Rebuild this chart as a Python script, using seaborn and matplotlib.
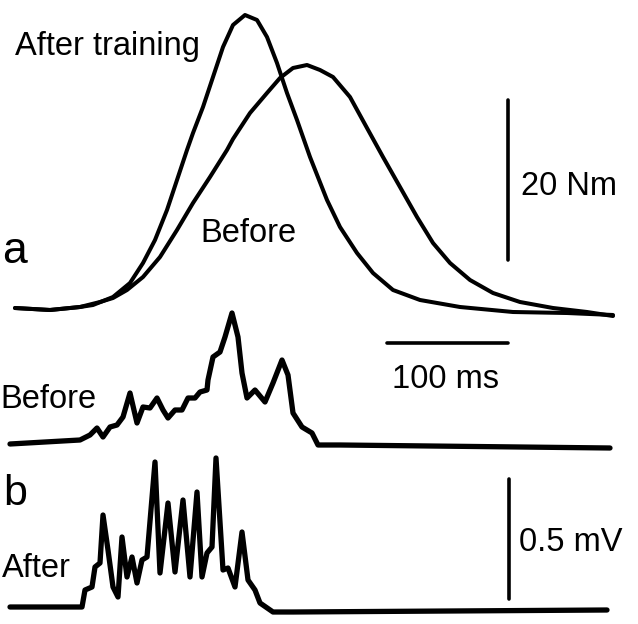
import matplotlib
matplotlib.use("Agg")
import matplotlib.pyplot as plt
import seaborn as sns

# ---- data (pixel units, y grows downwards) ----

# torque, after training
after_x = [15, 50, 80, 93, 113, 130, 143, 155, 167, 177, 187, 193, 203, 213, 223, 233,
           245, 257, 267, 277, 287, 297, 310, 327, 340, 357, 373, 393, 420, 460, 513,
           567, 613]
after_y = [308, 310, 307, 305, 297, 283, 263, 240, 210, 180, 150, 133, 107, 77, 47, 25,
           15, 20, 37, 63, 93, 120, 157, 200, 227, 253, 273, 290, 300, 307, 312,
           313, 315]

# torque, before training
before_x = [15, 50, 80, 100, 113, 127, 143, 160, 177, 193, 210, 227, 233, 250, 267, 280,
            293, 307, 320, 333, 350, 367, 383, 400, 417, 433, 450, 470, 493, 520, 553,
            587, 613]
before_y = [308, 310, 307, 302, 298, 290, 277, 257, 230, 203, 177, 150, 139, 113, 93, 78,
            68, 65, 70, 77, 97, 128, 157, 187, 217, 243, 263, 280, 293, 302, 308,
            312, 316]

# EMG before
emg_b_x = [10, 80, 90, 97, 103, 110, 117, 123, 130, 137, 143, 150, 157, 163, 168, 175,
           182, 188, 195, 200, 207, 208, 213, 220, 225, 232, 238, 242, 247, 255, 265,
           273, 282, 288, 293, 302, 312, 318, 340, 610]
emg_b_y = [444, 440, 435, 428, 437, 427, 425, 417, 393, 423, 407, 408, 398, 410, 418, 410,
           410, 398, 398, 392, 390, 380, 357, 352, 337, 313, 337, 373, 398, 390, 402,
           383, 360, 375, 413, 427, 433, 445, 445, 448]

# EMG after
emg_a_x = [10, 60, 82, 85, 92, 95, 100, 103, 108, 113, 118, 122, 127, 132, 137, 142, 147,
           155, 160, 168, 175, 183, 190, 197, 202, 207, 212, 216, 223, 228, 235, 242,
           248, 255, 260, 273, 293, 607]
emg_a_y = [607, 607, 607, 590, 587, 567, 563, 515, 550, 587, 597, 537, 577, 557, 583, 560, 557,
           462, 573, 503, 572, 500, 577, 492, 577, 553, 547, 458, 570, 568, 587, 532,
           580, 590, 603, 612, 612, 610]

# scale bars
nm_bar_x, nm_bar_y = [508, 508], [100, 260]
ms_bar_x, ms_bar_y = [387, 508], [343, 343]
mv_bar_x, mv_bar_y = [509, 509], [479, 599]

# labels: (text, x, baseline y, size)
labels = [
    ("After training", 15, 55, 23.5),
    ("Before", 200, 242, 23.5),
    ("a", 2, 263, 32),
    ("Before", 0, 408, 23.5),
    ("b", 3, 505, 31),
    ("After", 2, 577, 23.5),
    ("20 Nm", 521, 195, 23.5),
    ("100 ms", 392, 388, 23.5),
    ("0.5 mV", 519, 551, 23.5),
]

# ---- plot ----
sns.set_style("white")
plt.rcParams["font.family"] = ["Liberation Sans", "DejaVu Sans"]

fig = plt.figure(figsize=(6.38, 6.24), dpi=100)
ax = fig.add_axes([0, 0, 1, 1])

line_kw = dict(sort=False, estimator=None, color="black",
               solid_joinstyle="round", solid_capstyle="round", ax=ax)

sns.lineplot(x=after_x, y=after_y, lw=2.9, **line_kw)
sns.lineplot(x=before_x, y=before_y, lw=2.9, **line_kw)
sns.lineplot(x=emg_b_x, y=emg_b_y, lw=3.8, **line_kw)
sns.lineplot(x=emg_a_x, y=emg_a_y, lw=3.8, **line_kw)

for bx, by in [(nm_bar_x, nm_bar_y), (ms_bar_x, ms_bar_y), (mv_bar_x, mv_bar_y)]:
    sns.lineplot(x=bx, y=by, sort=False, estimator=None, color="black", lw=2.6, ax=ax)

for txt, tx, ty, size in labels:
    ax.text(tx, ty, txt, fontsize=size, ha="left", va="baseline", color="black")

ax.set_xlim(0, 638)
ax.set_ylim(624, 0)
ax.axis("off")

fig.savefig("out.png", dpi=100, facecolor="white")
